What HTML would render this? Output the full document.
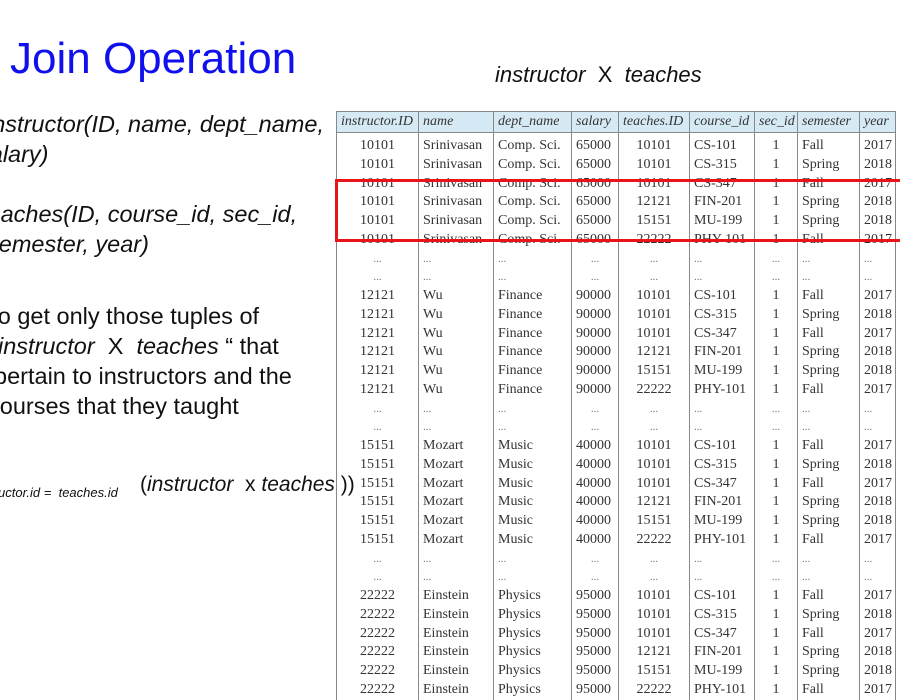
<!DOCTYPE html>
<html><head><meta charset="utf-8"><style>
body{margin:0;width:900px;height:683px;overflow:hidden;background:#fff;position:relative;font-family:"Liberation Sans",sans-serif}
.a{position:absolute;white-space:nowrap;font-size:23.5px;color:#111;line-height:1}
.t{position:absolute;left:336px;top:111px;border-collapse:collapse;font-family:"Liberation Serif",serif;font-size:14px;color:#333;table-layout:fixed}
.t td{padding:0 0 0 4px;border-left:1px solid #888;border-right:1px solid #888;height:18.75px;line-height:18.75px;white-space:nowrap;overflow:hidden}
.t th{background:#d6eaf6;border:1px solid #888;font-weight:normal;font-style:italic;text-align:left;padding:0 0 0 4px;height:20px;color:#333}
.t tr.sp td{height:4px;line-height:4px}
.c{text-align:center;padding:0!important}
.d td{color:#777;font-size:11px}
</style></head><body>
<div class="a" style="left:10px;top:37px;font-size:44px;color:#1010ee">Join Operation</div>
<div class="a" style="left:495px;top:64px;font-style:italic;font-size:22px">instructor&nbsp; <span style="font-style:normal">X</span>&nbsp; teaches</div>
<div class="a" style="left:-13px;top:113px;font-style:italic">instructor(ID, name, dept_name,</div>
<div class="a" style="left:-22px;top:143px;font-style:italic">salary)</div>
<div class="a" style="left:-19px;top:203px;font-style:italic">teaches(ID, course_id, sec_id,</div>
<div class="a" style="left:-13px;top:233px;font-style:italic">semester, year)</div>
<div class="a" style="left:-14px;top:305px">To get only those tuples of</div>
<div class="a" style="left:-2px;top:335px"><i>instructor</i>&nbsp; X&nbsp; <i>teaches</i> “ that</div>
<div class="a" style="left:-6px;top:365px">pertain to instructors and the</div>
<div class="a" style="left:-12px;top:395px">courses that they taught</div>
<div class="a" style="left:-2px;top:486px;font-size:13px;font-style:italic">uctor.id = &nbsp;teaches.id</div>
<div class="a" style="left:140px;top:474px;font-size:21px"><span style="font-style:normal">(</span><i>instructor&nbsp; </i>x <i>teaches</i> ))</div>
<table class="t">
<colgroup><col style="width:82px"><col style="width:75px"><col style="width:78px"><col style="width:47px"><col style="width:71px"><col style="width:65px"><col style="width:43px"><col style="width:62px"><col style="width:36px"></colgroup>
<tr><th>instructor.ID</th><th>name</th><th>dept_name</th><th>salary</th><th>teaches.ID</th><th>course_id</th><th>sec_id</th><th>semester</th><th>year</th></tr>
<tr class="sp"><td></td><td></td><td></td><td></td><td></td><td></td><td></td><td></td><td></td></tr>
<tr><td class="c">10101</td><td>Srinivasan</td><td>Comp. Sci.</td><td>65000</td><td class="c">10101</td><td>CS-101</td><td class="c">1</td><td>Fall</td><td>2017</td></tr>
<tr><td class="c">10101</td><td>Srinivasan</td><td>Comp. Sci.</td><td>65000</td><td class="c">10101</td><td>CS-315</td><td class="c">1</td><td>Spring</td><td>2018</td></tr>
<tr><td class="c">10101</td><td>Srinivasan</td><td>Comp. Sci.</td><td>65000</td><td class="c">10101</td><td>CS-347</td><td class="c">1</td><td>Fall</td><td>2017</td></tr>
<tr><td class="c">10101</td><td>Srinivasan</td><td>Comp. Sci.</td><td>65000</td><td class="c">12121</td><td>FIN-201</td><td class="c">1</td><td>Spring</td><td>2018</td></tr>
<tr><td class="c">10101</td><td>Srinivasan</td><td>Comp. Sci.</td><td>65000</td><td class="c">15151</td><td>MU-199</td><td class="c">1</td><td>Spring</td><td>2018</td></tr>
<tr><td class="c">10101</td><td>Srinivasan</td><td>Comp. Sci.</td><td>65000</td><td class="c">22222</td><td>PHY-101</td><td class="c">1</td><td>Fall</td><td>2017</td></tr>
<tr class="d"><td class="c">...</td><td>...</td><td>...</td><td class="c">...</td><td class="c">...</td><td>...</td><td class="c">...</td><td>...</td><td>...</td></tr>
<tr class="d"><td class="c">...</td><td>...</td><td>...</td><td class="c">...</td><td class="c">...</td><td>...</td><td class="c">...</td><td>...</td><td>...</td></tr>
<tr><td class="c">12121</td><td>Wu</td><td>Finance</td><td>90000</td><td class="c">10101</td><td>CS-101</td><td class="c">1</td><td>Fall</td><td>2017</td></tr>
<tr><td class="c">12121</td><td>Wu</td><td>Finance</td><td>90000</td><td class="c">10101</td><td>CS-315</td><td class="c">1</td><td>Spring</td><td>2018</td></tr>
<tr><td class="c">12121</td><td>Wu</td><td>Finance</td><td>90000</td><td class="c">10101</td><td>CS-347</td><td class="c">1</td><td>Fall</td><td>2017</td></tr>
<tr><td class="c">12121</td><td>Wu</td><td>Finance</td><td>90000</td><td class="c">12121</td><td>FIN-201</td><td class="c">1</td><td>Spring</td><td>2018</td></tr>
<tr><td class="c">12121</td><td>Wu</td><td>Finance</td><td>90000</td><td class="c">15151</td><td>MU-199</td><td class="c">1</td><td>Spring</td><td>2018</td></tr>
<tr><td class="c">12121</td><td>Wu</td><td>Finance</td><td>90000</td><td class="c">22222</td><td>PHY-101</td><td class="c">1</td><td>Fall</td><td>2017</td></tr>
<tr class="d"><td class="c">...</td><td>...</td><td>...</td><td class="c">...</td><td class="c">...</td><td>...</td><td class="c">...</td><td>...</td><td>...</td></tr>
<tr class="d"><td class="c">...</td><td>...</td><td>...</td><td class="c">...</td><td class="c">...</td><td>...</td><td class="c">...</td><td>...</td><td>...</td></tr>
<tr><td class="c">15151</td><td>Mozart</td><td>Music</td><td>40000</td><td class="c">10101</td><td>CS-101</td><td class="c">1</td><td>Fall</td><td>2017</td></tr>
<tr><td class="c">15151</td><td>Mozart</td><td>Music</td><td>40000</td><td class="c">10101</td><td>CS-315</td><td class="c">1</td><td>Spring</td><td>2018</td></tr>
<tr><td class="c">15151</td><td>Mozart</td><td>Music</td><td>40000</td><td class="c">10101</td><td>CS-347</td><td class="c">1</td><td>Fall</td><td>2017</td></tr>
<tr><td class="c">15151</td><td>Mozart</td><td>Music</td><td>40000</td><td class="c">12121</td><td>FIN-201</td><td class="c">1</td><td>Spring</td><td>2018</td></tr>
<tr><td class="c">15151</td><td>Mozart</td><td>Music</td><td>40000</td><td class="c">15151</td><td>MU-199</td><td class="c">1</td><td>Spring</td><td>2018</td></tr>
<tr><td class="c">15151</td><td>Mozart</td><td>Music</td><td>40000</td><td class="c">22222</td><td>PHY-101</td><td class="c">1</td><td>Fall</td><td>2017</td></tr>
<tr class="d"><td class="c">...</td><td>...</td><td>...</td><td class="c">...</td><td class="c">...</td><td>...</td><td class="c">...</td><td>...</td><td>...</td></tr>
<tr class="d"><td class="c">...</td><td>...</td><td>...</td><td class="c">...</td><td class="c">...</td><td>...</td><td class="c">...</td><td>...</td><td>...</td></tr>
<tr><td class="c">22222</td><td>Einstein</td><td>Physics</td><td>95000</td><td class="c">10101</td><td>CS-101</td><td class="c">1</td><td>Fall</td><td>2017</td></tr>
<tr><td class="c">22222</td><td>Einstein</td><td>Physics</td><td>95000</td><td class="c">10101</td><td>CS-315</td><td class="c">1</td><td>Spring</td><td>2018</td></tr>
<tr><td class="c">22222</td><td>Einstein</td><td>Physics</td><td>95000</td><td class="c">10101</td><td>CS-347</td><td class="c">1</td><td>Fall</td><td>2017</td></tr>
<tr><td class="c">22222</td><td>Einstein</td><td>Physics</td><td>95000</td><td class="c">12121</td><td>FIN-201</td><td class="c">1</td><td>Spring</td><td>2018</td></tr>
<tr><td class="c">22222</td><td>Einstein</td><td>Physics</td><td>95000</td><td class="c">15151</td><td>MU-199</td><td class="c">1</td><td>Spring</td><td>2018</td></tr>
<tr><td class="c">22222</td><td>Einstein</td><td>Physics</td><td>95000</td><td class="c">22222</td><td>PHY-101</td><td class="c">1</td><td>Fall</td><td>2017</td></tr>
</table>
<div style="position:absolute;left:335px;top:179px;width:570px;height:57px;border:3px solid #e8141a"></div>
</body></html>
